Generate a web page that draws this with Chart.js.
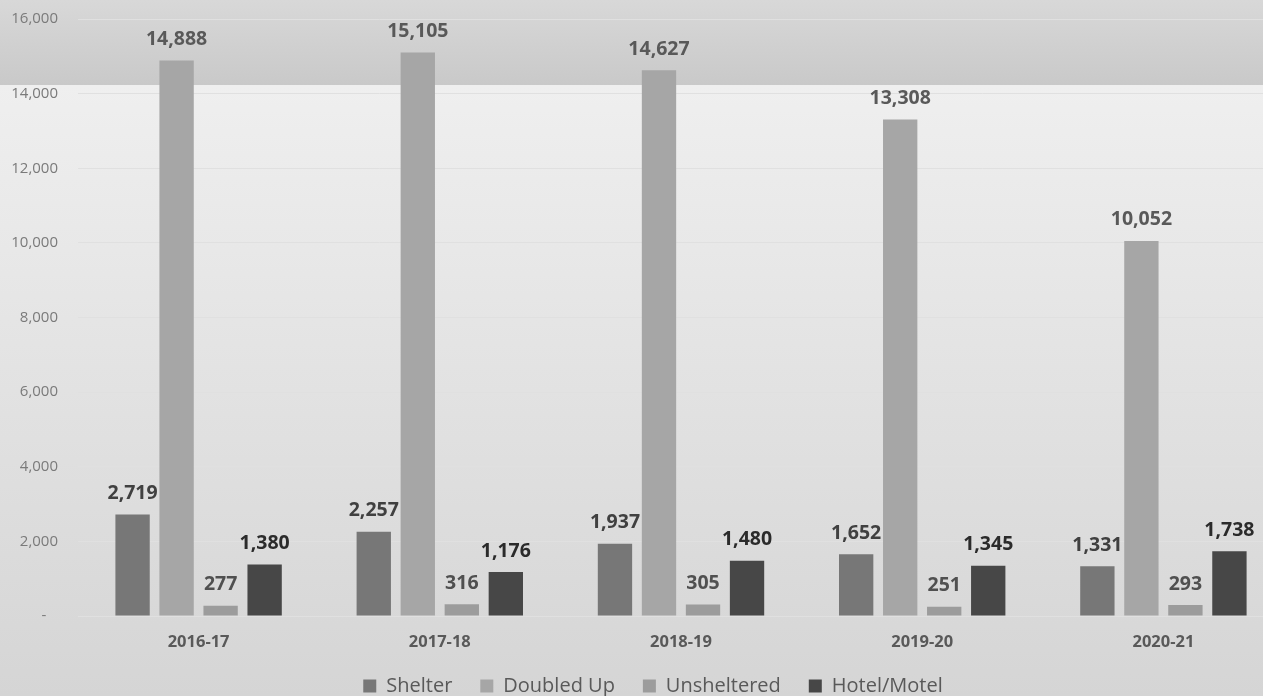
<!DOCTYPE html>
<html>
<head>
<meta charset="utf-8">
<script src="https://cdn.jsdelivr.net/npm/chart.js@4.4.0/dist/chart.umd.min.js"></script>
<style>
  body { margin: 0; overflow: hidden; background: #d6d6d6; }
  #wrap { width: 1284px; height: 696px; }
</style>
</head>
<body>
<div id="wrap"><canvas id="myChart" width="1284" height="696"></canvas></div>
<script>
// school years and student counts by living situation
var years = ["2016-17", "2017-18", "2018-19", "2019-20", "2020-21"];
var shelter = [2719, 2257, 1937, 1652, 1331];
var doubledUp = [14888, 15105, 14627, 13308, 10052];
var unsheltered = [277, 316, 305, 251, 293];
var hotelMotel = [1380, 1176, 1480, 1345, 1738];
var yTicks = [0, 2000, 4000, 6000, 8000, 10000, 12000, 14000, 16000];

// grey backdrop: darker band across the top, lighter fade below it
var backdrop = {
  id: "backdrop",
  beforeDraw: function(chart) {
    var ctx = chart.ctx, w = chart.width, h = chart.height;
    ctx.save();
    var top = ctx.createLinearGradient(0, 0, 0, 85);
    top.addColorStop(0, "#d8d8d8");
    top.addColorStop(1, "#c9c9c9");
    ctx.fillStyle = top;
    ctx.fillRect(0, 0, w, 85);
    var low = ctx.createLinearGradient(0, 85, 0, h);
    low.addColorStop(0, "#efefef");
    low.addColorStop(1, "#d5d5d5");
    ctx.fillStyle = low;
    ctx.fillRect(0, 85, w, h - 85);
    ctx.restore();
  }
};

// keep the legend strip short and nudge it under the year labels
var legendSpot = {
  id: "legendSpot",
  afterInit: function(chart) {
    var lg = chart.legend, fit = lg.fit;
    lg.fit = function() {
      fit.call(this);
      this.height = 45;
    };
  },
  afterLayout: function(chart) {
    var lg = chart.legend;
    lg.top = 648;
    lg.bottom = 696;
    lg.left += 22;
  }
};

// value labels above each bar
var labelColors = ["#404040", "#595959", "#505050", "#2b2b2b"];
var barLabels = {
  id: "barLabels",
  afterDatasetsDraw: function(chart) {
    var ctx = chart.ctx;
    ctx.save();
    ctx.font = "bold 19.5px 'Open Sans'";
    ctx.textAlign = "center";
    ctx.textBaseline = "middle";
    chart.data.datasets.forEach(function(ds, i) {
      ctx.fillStyle = labelColors[i];
      chart.getDatasetMeta(i).data.forEach(function(bar, j) {
        ctx.fillText(ds.data[j].toLocaleString("en-US"), bar.x, bar.y - 21);
      });
    });
    ctx.restore();
  }
};

new Chart("myChart", {
  type: "bar",
  data: {
    labels: years,
    datasets: [
      { label: "Shelter", data: shelter, backgroundColor: "#777777" },
      { label: "Doubled Up", data: doubledUp, backgroundColor: "#a6a6a6" },
      { label: "Unsheltered", data: unsheltered, backgroundColor: "#9c9c9c" },
      { label: "Hotel/Motel", data: hotelMotel, backgroundColor: "#474747" }
    ]
  },
  options: {
    responsive: false,
    animation: false,
    datasets: { bar: { barPercentage: 0.78, categoryPercentage: 0.73 } },
    layout: { padding: 0 },
    plugins: {
      legend: {
        position: "bottom",
        labels: {
          boxWidth: 13, boxHeight: 13, padding: 28,
          color: "#595959",
          font: { family: "'Open Sans'", size: 20 }
        }
      },
      tooltip: { enabled: false }
    },
    scales: {
      x: {
        afterFit: function(scale) { scale.height = 35; },
        grid: { display: false, drawTicks: false },
        border: { display: false },
        ticks: {
          padding: 16,
          color: "#595959",
          font: { family: "'Open Sans'", size: 16.5, weight: "bold" }
        }
      },
      y: {
        min: 0, max: 16000,
        afterBuildTicks: function(scale) {
          scale.ticks = yTicks.map(function(v) { return { value: v }; });
        },
        afterFit: function(scale) {
          scale.width = 78;
          scale.paddingTop = 19;
          scale.paddingBottom = 0;
        },
        grid: { color: "#e0e0e0", drawTicks: false },
        border: { display: false },
        ticks: {
          padding: 20,
          color: "#7a7a7a",
          font: { family: "'Open Sans'", size: 15 },
          // accounting style: zero shows as a dash set in from the numbers
          callback: function(v) { return v === 0 ? "-   " : v.toLocaleString("en-US"); }
        }
      }
    }
  },
  plugins: [backdrop, legendSpot, barLabels]
});
</script>
</body>
</html>
